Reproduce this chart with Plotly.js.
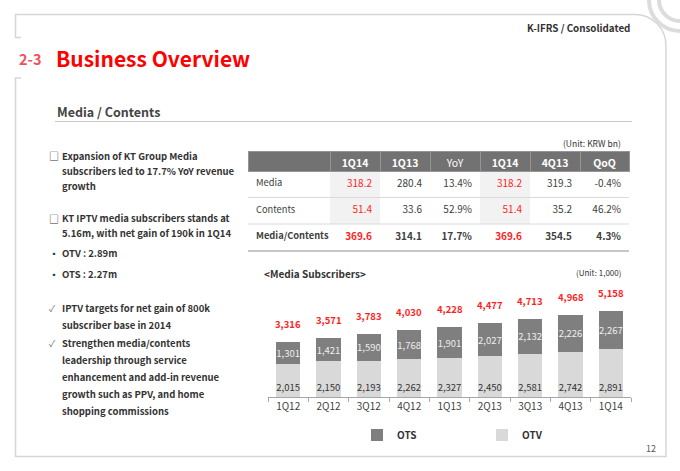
<!DOCTYPE html>
<html><head><meta charset="utf-8">
<script src="https://cdn.plot.ly/plotly-3.0.1.min.js"></script>
<style>
html,body{margin:0;padding:0;background:#fff;}
#wrap{position:relative;width:680px;height:471px;overflow:hidden;}
#chart{position:absolute;left:0;top:0;width:680px;height:471px;}
#frame{position:absolute;left:0;top:0;pointer-events:none;}
</style></head><body>
<div id="wrap"><div id="chart"></div>
<svg id="frame" width="680" height="471">
<path d="M21,37.5 H15.5 V14.5 H635 A31,31 0 0 1 666,45.5 V456.5 H15.5 V78 H21" fill="none" stroke="#d6d6d6" stroke-width="1.5"/>
<path d="M649,0 A31,31 0 0 0 680,31" fill="none" stroke="#dcdcdc" stroke-width="4"/>
<path d="M659,0 A21,21 0 0 0 680,21" fill="none" stroke="#dcdcdc" stroke-width="4"/>
</svg></div>
<script>
// ---- data ----
const quarters = ['1Q12','2Q12','3Q12','4Q12','1Q13','2Q13','3Q13','4Q13','1Q14'];
const otv = [2015,2150,2193,2262,2327,2450,2581,2742,2891];
const ots = [1301,1421,1590,1768,1901,2027,2132,2226,2267];
const totals = [3316,3571,3783,4030,4228,4477,4713,4968,5158];

const tableHeader = ['', '1Q14', '1Q13', 'YoY', '1Q14', '4Q13', 'QoQ'];
const rowLabels = ['Media', 'Contents', 'Media/Contents'];
const rev1Q14 = [318.2, 51.4, 369.6];
const rev1Q13 = [280.4, 33.6, 314.1];
const yoy = ['13.4%', '52.9%', '17.7%'];
const rev4Q13 = [319.3, 35.2, 354.5];
const qoq = ['-0.4%', '46.2%', '4.3%'];

const para1 = ['Expansion of KT Group Media', 'subscribers led to 17.7% YoY revenue', 'growth'];
const para2 = ['KT IPTV media subscribers stands at', '5.16m, with net gain of 190k in 1Q14'];
const subBullets = ['OTV : 2.89m', 'OTS : 2.27m'];
const check1 = ['IPTV targets for net gain of 800k', 'subscriber base in 2014'];
const check2 = ['Strengthen media/contents', 'leadership through service', 'enhancement and add-in revenue', 'growth such as PPV, and home', 'shopping commissions'];

// ---- helpers ----
const W = 680, H = 471;
const px = x => x / W;
const py = y => 1 - y / H;
const F = '"Noto Sans CJK KR", "Noto Sans", sans-serif';
const TXT = '#333333';
const RED = '#ff1e1e';

const ann = [];
function label(x, y, text, o) {
  o = o || {};
  ann.push({xref:'paper', yref:'paper', x:px(x), y:py(y), text:text, showarrow:false,
    xanchor:o.xa || 'left', yanchor:'middle',
    font:{family:F, size:o.size || 9.5, color:o.color || TXT, weight:o.weight || 'bold'}});
}

label(632, 28, 'K-IFRS / Consolidated', {xa:'right', size:9.8});
label(17, 59, '2-3', {size:14.5, color:'#f4505c'});
label(54, 58, 'Business Overview', {size:21, color:'#ff0000'});
label(55, 112, 'Media / Contents', {size:12.5, color:'#444444'});

// left text block
const mX = 47, tX = 60;
const p1Y = [156, 171, 186];
para1.forEach((t, i) => { label(tX, p1Y[i], t); });
label(mX, p1Y[0], '\u25A1', {weight:'normal', size:10});
const p2Y = [218, 233];
para2.forEach((t, i) => { label(tX, p2Y[i], t); });
label(mX, p2Y[0], '\u25A1', {weight:'normal', size:10});
const sbY = [253, 274];
subBullets.forEach((t, i) => { label(tX, sbY[i], t); label(mX + 1, sbY[i], '\u25AA', {weight:'normal', size:8}); });
const c1Y = [308, 325];
check1.forEach((t, i) => { label(tX, c1Y[i], t); });
label(mX, c1Y[0], '\u2713', {weight:'normal', size:9, color:'#777'});
const c2Y = [343, 360, 377, 394, 411];
check2.forEach((t, i) => { label(tX, c2Y[i], t); });
label(mX, c2Y[0], '\u2713', {weight:'normal', size:9, color:'#777'});

// units, chart title, page no
label(623, 143, '(Unit: KRW bn)', {xa:'right', size:8.5, weight:'normal'});
label(262, 273, '&lt;Media Subscribers&gt;', {size:10});
label(623, 272, '(Unit: 1,000)', {xa:'right', size:8, weight:'normal'});
label(651, 448, '12', {xa:'center', size:9, weight:'normal', color:'#555'});

// totals above bars
quarters.forEach((q, i) => {
  ann.push({xref:'x', yref:'y', x:q, y:totals[i], text:totals[i].toLocaleString('en-US'),
    showarrow:false, yanchor:'bottom', yshift:9,
    font:{family:F, size:9.5, color:RED, weight:'bold'}});
});

// ---- table ----
const fmt = a => a.map(v => v.toFixed(1));
const SH = '#f2f2f2';
const WH = '#ffffff';
const colFill = [
  [WH, WH, WH],
  [SH, SH, WH],
  [WH, WH, WH],
  [WH, WH, WH],
  [SH, SH, WH],
  [WH, WH, WH],
  [WH, WH, WH]
];
const colColor = [0,1,2,3,4,5,6].map(c => (c === 1 || c === 4) ? [RED, RED, RED] : ['#404040','#404040','#404040']);
const colWeight = [0,1,2,3,4,5,6].map(c => ['normal','normal','bold']);

const table = {
  type:'table',
  domain:{x:[px(248), px(629)], y:[py(275), py(151)]},
  columnwidth:[82,50,50,50,50,50,49],
  header:{
    values:tableHeader,
    align:'center',
    height:20,
    fill:{color:'#727272'},
    line:{color:'#959595', width:1},
    font:{family:F, size:10.5, color:'#ffffff', weight:['bold','bold','bold','normal','bold','bold','bold']}
  },
  cells:{
    values:[rowLabels, fmt(rev1Q14), fmt(rev1Q13), yoy, fmt(rev1Q14), fmt(rev4Q13), qoq],
    align:['left','right','right','right','right','right','right'],
    height:26.7,
    fill:{color:colFill},
    line:{color:colFill, width:1},
    font:{family:F, size:[9.3, 10, 10, 10, 10, 10, 10], color:colColor, weight:colWeight}
  }
};

// ---- bars ----
const barOTV = {
  type:'bar', name:'OTV', x:quarters, y:otv,
  marker:{color:'#d9d9d9'},
  texttemplate:'%{y:,}', textposition:'inside', insidetextanchor:'start',
  textangle:0, constraintext:'none',
  textfont:{family:F, size:9.5, color:'#333333'},
  hoverinfo:'skip'
};
const barOTS = {
  type:'bar', name:'OTS', x:quarters, y:ots,
  marker:{color:'#7f7f7f'},
  texttemplate:'%{y:,}', textposition:'inside', insidetextanchor:'middle',
  textangle:0, constraintext:'none',
  textfont:{family:F, size:9.5, color:'#eeeeee'},
  hoverinfo:'skip'
};

const shapes = [
  {type:'line', xref:'paper', yref:'paper', x0:px(55), x1:px(632), y0:py(121.5), y1:py(121.5), line:{color:'#c8c8c8', width:1}},
  {type:'line', xref:'paper', yref:'paper', x0:px(248), x1:px(629), y0:py(197.5), y1:py(197.5), line:{color:'#dadada', width:1}},
  {type:'line', xref:'paper', yref:'paper', x0:px(248), x1:px(629), y0:py(224), y1:py(224), line:{color:'#dadada', width:1}},
  {type:'line', xref:'paper', yref:'paper', x0:px(248), x1:px(629), y0:py(251), y1:py(251), line:{color:'#b4b4b4', width:1.5}}
];

const layout = {
  width:W, height:H,
  margin:{l:0, r:0, t:0, b:0},
  paper_bgcolor:'#ffffff', plot_bgcolor:'rgba(0,0,0,0)',
  font:{family:F, color:TXT},
  barmode:'stack', bargap:0.4,
  xaxis:{domain:[px(268), px(631)], type:'category', range:[-0.5, 8.5],
    showline:true, linecolor:'#a6a6a6', linewidth:1,
    ticks:'outside', tickson:'boundaries', ticklen:4, tickcolor:'#a6a6a6',
    tickfont:{family:F, size:10, color:'#404040'}, showgrid:false, zeroline:false, fixedrange:true},
  yaxis:{domain:[py(397), py(285)], range:[0, 6750], visible:false, fixedrange:true},
  showlegend:true,
  legend:{orientation:'h', x:px(357), xanchor:'left', y:py(435), yanchor:'middle',
    traceorder:'reversed', entrywidth:80, entrywidthmode:'pixels',
    font:{family:F, size:10, color:'#333', weight:'bold'}, bgcolor:'rgba(0,0,0,0)'},
  annotations:ann,
  shapes:shapes
};

Plotly.newPlot('chart', [table, barOTV, barOTS], layout, {displayModeBar:false, staticPlot:true});
</script>
</body></html>
